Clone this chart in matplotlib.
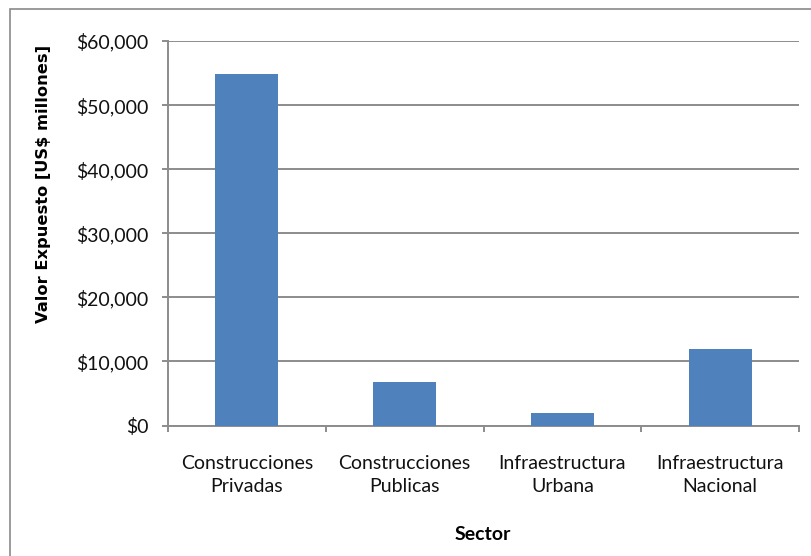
import matplotlib
matplotlib.use('Agg')
import matplotlib.pyplot as plt
from matplotlib.patches import Rectangle
import numpy as np

# data
sectores = ['Construcciones\nPrivadas', 'Construcciones\nPublicas',
            'Infraestructura\nUrbana', 'Infraestructura\nNacional']
valores = [54900, 6800, 2000, 11900]
yticks = [0, 10000, 20000, 30000, 40000, 50000, 60000]

W, H = 811, 556
fig = plt.figure(figsize=(W / 100, H / 100), dpi=100)
ax = fig.add_axes([168 / W, 1 - 425.5 / H, (799 - 168) / W, (425.5 - 41) / H])

grid_c = '#8c8c8c'
x = np.arange(len(sectores))
ax.bar(x, valores, width=0.4, color='#4F81BD', zorder=3)

ax.set_xlim(-0.5, len(sectores) - 0.5)
ax.set_ylim(0, 60000)
ax.set_yticks(yticks)
ax.set_yticklabels(['${:,}'.format(v) for v in yticks])
ax.yaxis.grid(True, color=grid_c, linewidth=1.4, zorder=0)
ax.set_axisbelow(True)

# excel style: ticks between categories
ax.set_xticks(np.arange(-0.5, len(sectores), 1.0))
ax.set_xticklabels([])
ax.set_xticks(x, minor=True)
ax.set_xticklabels(sectores, minor=True)
ax.tick_params(axis='x', which='minor', length=0, pad=21)
ax.tick_params(axis='x', which='major', length=4, color=grid_c, width=1.4)
ax.tick_params(axis='y', length=4, color=grid_c, width=1.4, pad=10)

fnt = ['Lato', 'DejaVu Sans']
for lab in ax.get_yticklabels() + ax.get_xticklabels(minor=True):
    lab.set_family(fnt)
    lab.set_fontsize(14)
    lab.set_color('#111111')
    lab.set_linespacing(1.45)

for s in ['top', 'right']:
    ax.spines[s].set_visible(False)
for s in ['left', 'bottom']:
    ax.spines[s].set_color(grid_c)
    ax.spines[s].set_linewidth(1.4)

fig.text(44 / W, 1 - 184 / H, 'Valor Expuesto [US$ millones]', rotation=90,
         ha='center', va='center', fontsize=11.7, fontweight='bold', family='DejaVu Sans')
fig.text(483 / W, 1 - 534 / H, 'Sector', ha='center', va='center',
         fontsize=14, fontweight='bold', family=fnt)

# chart area border
fig.patches.append(Rectangle((10 / W, -0.1), 1.1, 1 - 9 / H + 0.1, transform=fig.transFigure,
                             fill=False, edgecolor='#8a8a8a', linewidth=1.2))

fig.savefig('out.png', dpi=100)
